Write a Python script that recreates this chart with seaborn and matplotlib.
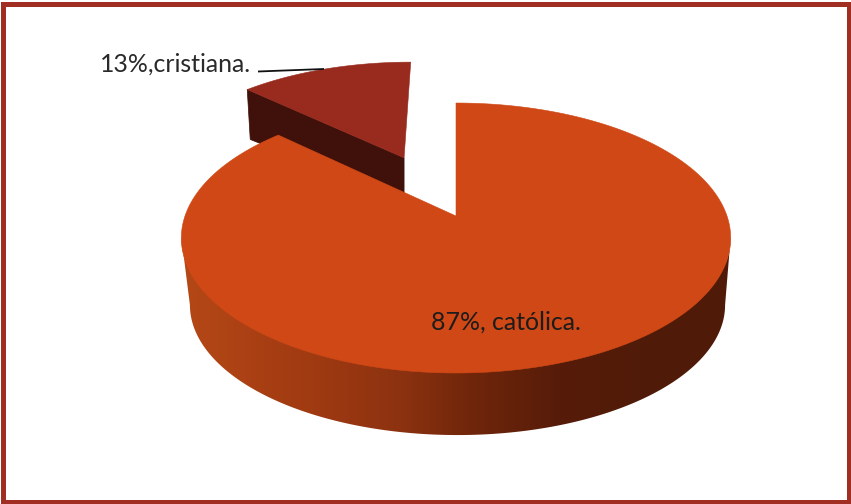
import numpy as np
import matplotlib
matplotlib.use("Agg")
import matplotlib.pyplot as plt
from matplotlib.patches import Rectangle, Polygon
import seaborn as sns

# Religious affiliation shares
categories = ["católica.", "cristiana."]
shares = [87, 13]
separators = [", ", ","]

TOP_COLOR = "#D04815"
SLICE_COLOR = "#982B1E"
SLICE_SIDE = "#3F110A"
FRAME_COLOR = "#A12E22"
RIM_STOPS = ["#B44716", "#A23B12", "#8C3210", "#70260B", "#561C09", "#501B08", "#4F1A08"]

sns.set_theme(style="white")
plt.rcParams["font.family"] = ["Lato", "DejaVu Sans"]

W, H = 851, 504
fig = plt.figure(figsize=(W / 100, H / 100), dpi=100)
ax = fig.add_axes([0, 0, 1, 1])
ax.set_xlim(0, W)
ax.set_ylim(H, 0)
ax.axis("off")

# Perspective projection of the unit disc onto the canvas
K, RX, RY = 0.163, 271.0, 131.4
CX, CY = 456.0, 216.0
LOWER_CX, LOWER_CY, LOWER_RX, LOWER_RY = 457.5, 283.8, 264.0, 126.6
EXPLODE = 0.52
SLICE_RADIUS = 0.97


def top_plane(u, v):
    w = 1 + K * np.asarray(v)
    return CX + RX * np.asarray(u) / w, CY - RY * np.asarray(v) / w


def lower_plane(u, v):
    w = 1 + K * np.asarray(v)
    return LOWER_CX + LOWER_RX * np.asarray(u) / w, LOWER_CY - LOWER_RY * np.asarray(v) / w


# Slice angles, clockwise from twelve o'clock
total = sum(shares)
main_span = 2 * np.pi * shares[0] / total
small_span = 2 * np.pi * shares[1] / total

# Small slice, pulled out along its bisector
theta_small = np.linspace(main_span, main_span + small_span, 60)
mid = main_span + small_span / 2
du, dv = EXPLODE * np.sin(mid), EXPLODE * np.cos(mid)
us = SLICE_RADIUS * np.sin(theta_small) + du
vs = SLICE_RADIUS * np.cos(theta_small) + dv
xs, ys = top_plane(us, vs)
ax_apex, ay_apex = top_plane(du, dv)

w_left = 1 + K * vs[0]
left_drop = 37.4 + 13 * vs[0] / w_left
apex_drop = 37.4 + 13 * dv / (1 + K * dv)
ax.fill([xs[0], ax_apex, ax_apex, xs[0] + 3],
        [ys[0], ay_apex, ay_apex + apex_drop, ys[0] + left_drop],
        color=SLICE_SIDE, lw=0.5, zorder=2)
ax.fill(np.r_[ax_apex, xs], np.r_[ay_apex, ys], color=SLICE_COLOR, lw=0.4, zorder=3)

# Large slice: front rim as a horizontal gradient clipped to the band between
# the lower and upper arcs, then the flat face on top
theta_main = np.linspace(0, main_span, 720)
xt, yt = top_plane(np.sin(theta_main), np.cos(theta_main))

theta_front = np.linspace(np.radians(99.4), np.radians(260.6), 300)
uf, vf = np.sin(theta_front), np.cos(theta_front)
band_top = top_plane(uf, vf)
band_low = lower_plane(uf, vf)
band = Polygon(np.c_[np.r_[band_top[0], band_low[0][::-1]],
                     np.r_[band_top[1] - 1.0, band_low[1][::-1]]],
               closed=True, transform=ax.transData, fc="none", ec="none")
ax.add_patch(band)

x_stops = [187, 300, 400, 470, 560, 640, 730]
rim_cmap = sns.blend_palette(RIM_STOPS, as_cmap=True)
grid_x = np.arange(170, 745)
tone = np.interp(grid_x, x_stops, np.linspace(0, 1, len(x_stops)))
rim = ax.imshow(tone[None, :], cmap=rim_cmap, vmin=0, vmax=1, aspect="auto",
                extent=(170, 745, 445, 230), interpolation="bilinear", zorder=4)
rim.set_clip_path(band)
ax.set_xlim(0, W)
ax.set_ylim(H, 0)

ax.fill(np.r_[CX, xt], np.r_[CY, yt], color=TOP_COLOR, lw=0.4, zorder=5)

# Data labels
ax.text(431, 330, f"{shares[0]}%{separators[0]}{categories[0]}", fontsize=17.9,
        color="#1c1c1c", ha="left", va="baseline", zorder=7)
ax.text(99.5, 71.5, f"{shares[1]}%{separators[1]}{categories[1]}", fontsize=17.9,
        color="#2a2a2a", ha="left", va="baseline", zorder=7)
ax.plot([258, 324], [71.5, 69], color="#111111", lw=1.3, zorder=7, solid_capstyle="butt")

# Outer frame
ax.add_patch(Rectangle((2.5, 3.5), 846.5, 498.5, fill=False, ec=FRAME_COLOR,
                       lw=5 * 72 / 100, joinstyle="miter", zorder=8))

fig.savefig("out.png", dpi=100, facecolor="white")
